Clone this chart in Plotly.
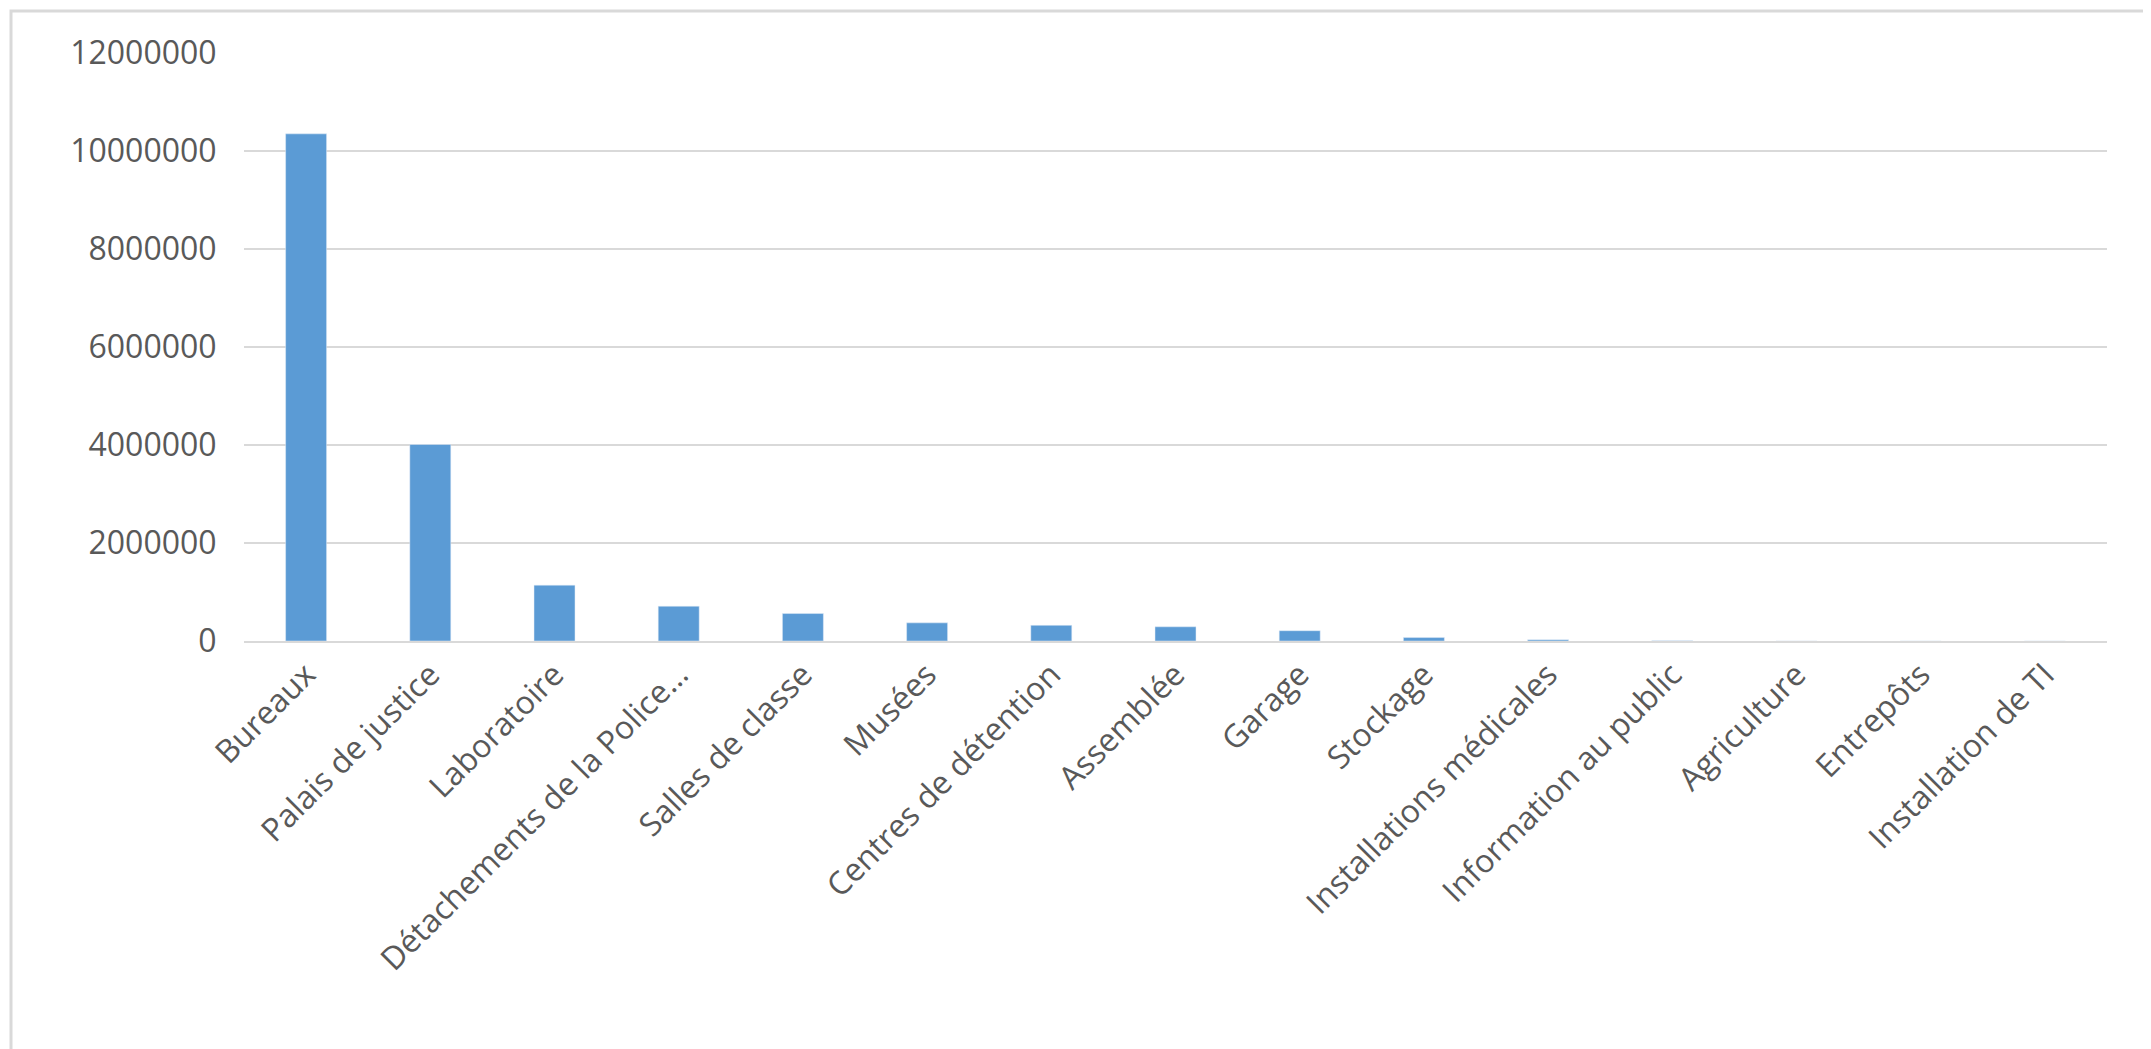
import plotly.graph_objects as go

categories = ["Bureaux", "Palais de justice", "Laboratoire", "Détachements de la Police…",
              "Salles de classe", "Musées", "Centres de détention", "Assemblée", "Garage",
              "Stockage", "Installations médicales", "Information au public", "Agriculture",
              "Entrepôts", "Installation de TI"]
values = [10350000, 4010000, 1140000, 710000, 560000, 370000, 320000, 290000, 210000,
          70000, 26000, 4000, 2000, 1000, 500]

W, H = 2151, 1049
L, R, T, B = 236, 52, 45, 416
pw, ph = W - L - R, H - T - B

fig = go.Figure(go.Bar(x=categories, y=values, marker_color="#5b9bd5", width=0.33))

fig.update_layout(
    width=W, height=H,
    paper_bgcolor="white", plot_bgcolor="white",
    margin=dict(l=L, r=R, t=T, b=B),
    font=dict(family="Open Sans, Liberation Sans", size=32, color="#595959"),
    showlegend=False,
    shapes=[dict(type="rect", xref="paper", yref="paper",
                 x0=-(L - 3) / pw, x1=1 + (R - 4) / pw,
                 y0=-(B - 4) / ph, y1=1 + (T - 3) / ph,
                 line=dict(color="#d9d9d9", width=3))],
)
fig.update_xaxes(tickangle=-45, showline=True, linecolor="#d9d9d9", linewidth=2, ticks="")
fig.update_yaxes(range=[0, 12000000], dtick=2000000, tickformat="d", gridcolor="#d9d9d9",
                 gridwidth=2, zeroline=False, ticks="outside", ticklen=20, tickcolor="white")

fig.write_html("out.html")
